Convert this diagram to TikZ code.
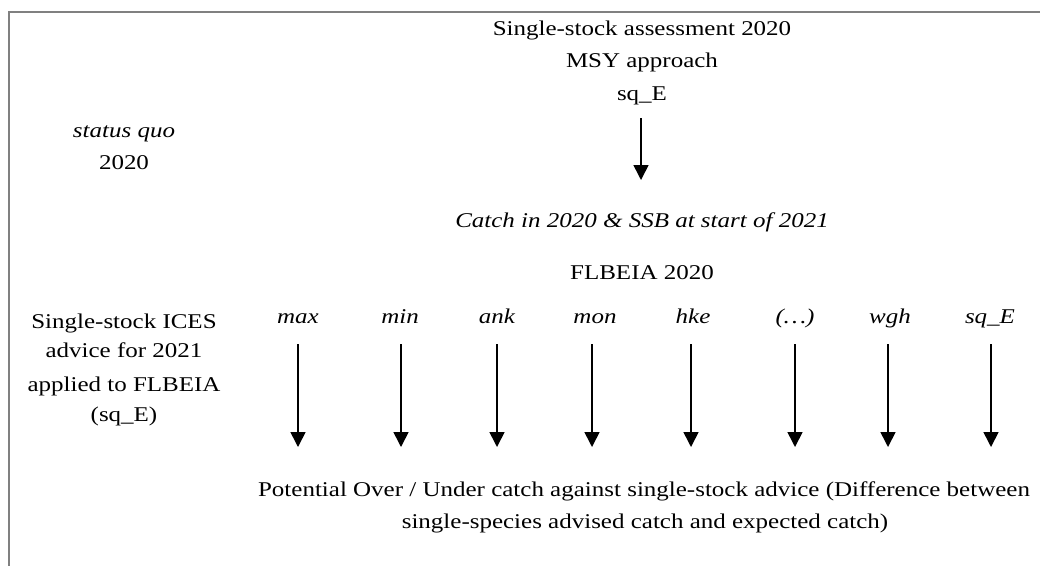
\documentclass[tikz,border=0pt]{standalone}
\usepackage{fontspec}
\setmainfont[FakeStretch=1.19]{Liberation Serif}
\usetikzlibrary{arrows.meta}
\tikzset{
  txt/.style={anchor=base, inner sep=0pt, font=\fontsize{21}{25}\selectfont},
  itxt/.style={txt, font=\fontsize{21}{25}\selectfont\itshape},
  arr/.style={line width=1.6pt, -{Triangle[width=15pt,length=15pt]}},
  frame/.style={draw=black!50, line width=2pt}
}
\begin{document}
\begin{tikzpicture}[x=1pt,y=-1pt]
\useasboundingbox (0,0) rectangle (1040,566);
\draw[frame] (1040,12) -- (9,12) -- (9,566);
% top block
\node[txt] (t1) at (642,35) {Single-stock assessment 2020};
\node[txt] (t2) at (642,67) {MSY approach};
\node[txt] (t3) at (642,100) {sq\_E};
\coordinate (a0s) at (641,118);
\coordinate (a0e) at (641,180);
\draw[arr] (a0s) -- (a0e);
\node[itxt] (catch) at (642,227) {Catch in 2020 \& SSB at start of 2021};
\node[txt] (flb) at (642,279) {FLBEIA 2020};
% left labels
\node[itxt] (sq1) at (124,137) {status quo};
\node[txt] (sq2) at (124,169) {2020};
\node[txt] (l1) at (124,328) {Single-stock ICES};
\node[txt] (l2) at (124,357) {advice for 2021};
\node[txt] (l3) at (124,391) {applied to FLBEIA};
\node[txt] (l4) at (124,421) {(sq\_E)};
% species row
\foreach \n/\lab/\xl/\xa in {max/max/298/298, min/min/400/401, ank/ank/497/497, mon/mon/595/592, hke/hke/693/691, etc/(\dots)/795/795, wgh/wgh/890/888, sqe/sq\_E/990/991}{
  \node[itxt] (\n) at (\xl,323) {\lab};
  \coordinate (\n s) at (\xa,344);
  \coordinate (\n e) at (\xa,447);
  \draw[arr] (\n s) -- (\n e);
}
% bottom text
\node[txt] (b1) at (644,496) {Potential Over / Under catch against single-stock advice (Difference between};
\node[txt] (b2) at (645,528) {single-species advised catch and expected catch)};
\end{tikzpicture}
\end{document}
